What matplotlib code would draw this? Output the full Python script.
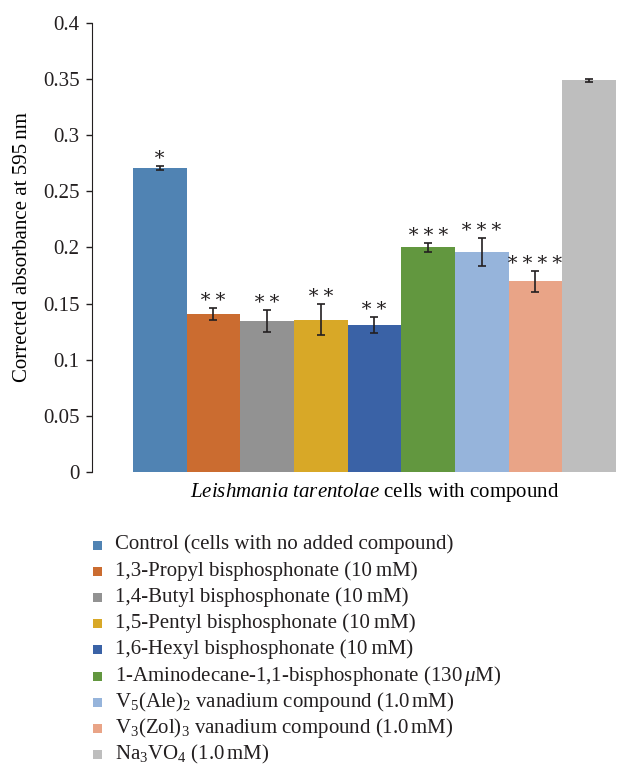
import matplotlib
matplotlib.use("Agg")
import matplotlib.pyplot as plt
from matplotlib.patches import Rectangle

plt.rcParams.update({
    "font.family": ["Liberation Serif", "DejaVu Serif"],
    "mathtext.fontset": "custom",
    "mathtext.rm": "Liberation Serif",
    "mathtext.it": "Liberation Serif:italic",
    "text.color": "#231F20",
})

labels = [
    "Control (cells with no added compound)",
    "1,3-Propyl bisphosphonate (10\u2009mM)",
    "1,4-Butyl bisphosphonate (10\u2009mM)",
    "1,5-Pentyl bisphosphonate (10\u2009mM)",
    "1,6-Hexyl bisphosphonate (10\u2009mM)",
    r"1-Aminodecane-1,1-bisphosphonate (130$\,\mu$M)",
    r"V$_5$(Ale)$_2$ vanadium compound (1.0$\,$mM)",
    r"V$_3$(Zol)$_3$ vanadium compound (1.0$\,$mM)",
    r"Na$_3$VO$_4$ (1.0$\,$mM)",
]
values = [0.271, 0.1405, 0.1345, 0.1355, 0.131, 0.2002, 0.196, 0.170, 0.349]
errors = [0.0020, 0.0055, 0.0100, 0.0138, 0.0070, 0.0040, 0.0128, 0.0092, 0.0013]
stars = ["*", "**", "**", "**", "**", "***", "***", "****", ""]
colors = ["#5083B3", "#CB6C30", "#929292", "#D8A827", "#3A62A6",
          "#62973F", "#96B4DB", "#E9A487", "#BEBEBE"]

FS = 15
W, H = 617, 765

fig = plt.figure(figsize=(W / 100, H / 100), dpi=100)
ax = fig.add_axes([92 / W, (H - 472) / H, 1 - 92 / W, (472 - 23) / H])

x = range(len(values))
ax.bar(x, values, width=1.0, color=colors, yerr=errors,
       error_kw=dict(ecolor="#231F20", elinewidth=1.2, capsize=3, capthick=1.2))

for i, (v, e, s) in enumerate(zip(values, errors, stars)):
    if s:
        ax.annotate("\u200a".join("\u2217" * len(s)), (i, v + e), xytext=(0, 1.5),
                    textcoords="offset points", ha="center", va="bottom", fontsize=14)

ax.set_xlim(-1.263, 8.52)
ax.set_ylim(0, 0.4)
ax.set_yticks([0, 0.05, 0.1, 0.15, 0.2, 0.25, 0.3, 0.35, 0.4])
ax.set_yticklabels(["0", "0.05", "0.1", "0.15", "0.2", "0.25", "0.3", "0.35", "0.4"])
ax.set_xticks([])
for sp in ["top", "right", "bottom"]:
    ax.spines[sp].set_visible(False)
ax.spines["left"].set_color("#231F20")
ax.tick_params(axis="y", direction="out", length=4, width=1, labelsize=FS, pad=5,
               colors="#231F20")
ax.set_ylabel("Corrected absorbance at 595\u2009nm", fontsize=FS, labelpad=8)
ax.set_xlabel(r"$\mathit{Leishmania\ tarentolae}$ cells with compound", fontsize=FS)
ax.xaxis.set_label_coords((375 - 92) / (W - 92), -0.02)
ax.xaxis.label.set_va("top")

# legend laid out line by line so sub/superscript lines keep an even pitch
for i, (lab, c) in enumerate(zip(labels, colors)):
    yc = 545 + i * 26.2
    fig.patches.append(Rectangle((93 / W, (H - yc - 4.5) / H), 9 / W, 9 / H,
                                 transform=fig.transFigure, facecolor=c, edgecolor="none"))
    fig.text(115 / W, (H - yc - 4.5) / H, lab, fontsize=FS, va="baseline", ha="left")

fig.savefig("out.png", dpi=100, facecolor="white")
